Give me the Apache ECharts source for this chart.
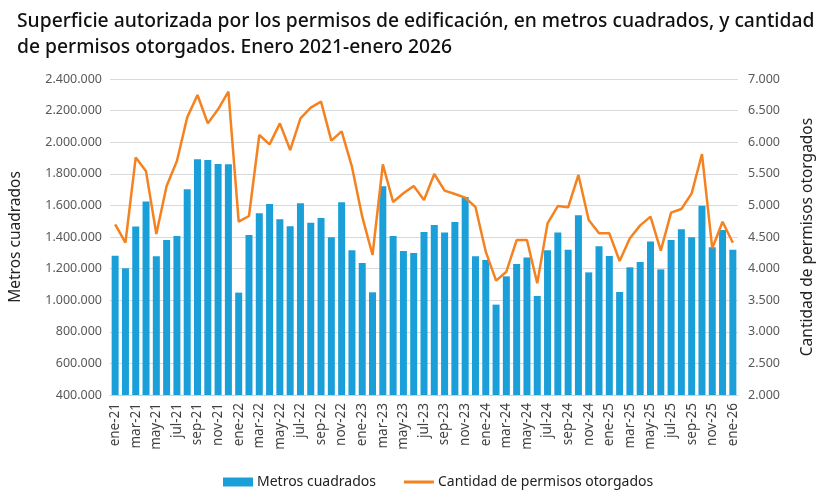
<!DOCTYPE html>
<html>
<head>
<meta charset="utf-8">
<script src="https://cdn.jsdelivr.net/npm/echarts@6/dist/echarts.min.js"></script>
<style>
  html, body { margin: 0; padding: 0; background: #fff; }
  #chart { width: 824px; height: 498px; }
</style>
</head>
<body>
<div id="chart"></div>
<script>
// datos: superficie (m2) y cantidad de permisos, ene-21 a ene-26
var meses = [
  'ene-21','feb-21','mar-21','abr-21','may-21','jun-21','jul-21','ago-21','sep-21','oct-21','nov-21','dic-21',
  'ene-22','feb-22','mar-22','abr-22','may-22','jun-22','jul-22','ago-22','sep-22','oct-22','nov-22','dic-22',
  'ene-23','feb-23','mar-23','abr-23','may-23','jun-23','jul-23','ago-23','sep-23','oct-23','nov-23','dic-23',
  'ene-24','feb-24','mar-24','abr-24','may-24','jun-24','jul-24','ago-24','sep-24','oct-24','nov-24','dic-24',
  'ene-25','feb-25','mar-25','abr-25','may-25','jun-25','jul-25','ago-25','sep-25','oct-25','nov-25','dic-25',
  'ene-26'
];

var metros = [
  1282000, 1202000, 1466000, 1624000, 1278000, 1381000, 1406000, 1702000, 1892000, 1888000, 1862000, 1860000,
  1048000, 1413000, 1550000, 1609000, 1512000, 1468000, 1614000, 1490000, 1520000, 1398000, 1620000, 1316000,
  1236000, 1050000, 1721000, 1406000, 1311000, 1299000, 1432000, 1476000, 1428000, 1495000, 1653000, 1278000,
  1255000, 972000, 1151000, 1229000, 1271000, 1027000, 1316000, 1428000, 1320000, 1537000, 1176000, 1341000,
  1280000, 1052000, 1208000, 1242000, 1371000, 1195000, 1381000, 1449000, 1398000, 1598000, 1335000, 1444000,
  1320000
];

var permisos = [
  4700, 4410, 5760, 5539, 4547, 5307, 5702, 6393, 6747, 6298, 6520, 6799,
  4742, 4832, 6114, 5966, 6298, 5876, 6377, 6546, 6641, 6024, 6172, 5613,
  4822, 4215, 5650, 5054, 5191, 5307, 5085, 5497, 5233, 5180, 5122, 4975,
  4268, 3809, 3951, 4452, 4452, 3767, 4716, 4990, 4969, 5481, 4769, 4558,
  4558, 4120, 4479, 4684, 4822, 4284, 4885, 4943, 5191, 5813, 4321, 4742,
  4410
];

function puntos(v) {
  return String(v).replace(/\B(?=(\d{3})+(?!\d))/g, '.');
}

var myChart = echarts.init(document.getElementById('chart'));

var option = {
  backgroundColor: '#fff',
  animation: false,
  textStyle: { fontFamily: 'Noto Sans' },
  title: {
    text: 'Superficie autorizada por los permisos de edificación, en metros cuadrados, y cantidad\nde permisos otorgados. Enero 2021-enero 2026',
    left: 12,
    top: 4,
    textStyle: {
      fontFamily: 'Noto Sans',
      fontSize: 19.3,
      fontWeight: 500,
      color: '#111',
      lineHeight: 26
    }
  },
  legend: {
    bottom: 4,
    left: 218,
    itemWidth: 30,
    itemHeight: 9,
    itemGap: 28,
    textStyle: { fontSize: 14, color: '#222', padding: [0, 0, 0, -1] },
    data: [
      { name: 'Metros cuadrados', icon: 'rect' },
      { name: 'Cantidad de permisos otorgados', icon: 'path://M0,0h30v3H0z' }
    ]
  },
  grid: { left: 110, right: 84, top: 79, bottom: 103 },
  xAxis: {
    type: 'category',
    data: meses,
    axisTick: { show: false },
    axisLine: { lineStyle: { color: '#d0d0d0' } },
    axisLabel: {
      rotate: 90,
      interval: 1,
      fontSize: 13.5,
      color: '#404040',
      margin: 8
    }
  },
  yAxis: [
    {
      type: 'value',
      name: 'Metros cuadrados',
      nameLocation: 'middle',
      nameGap: 86,
      nameTextStyle: { fontSize: 15.5, color: '#222' },
      min: 400000,
      max: 2400000,
      interval: 200000,
      axisLabel: { fontSize: 12.5, color: '#595959', formatter: puntos },
      splitLine: { lineStyle: { color: '#d9d9d9' } }
    },
    {
      type: 'value',
      name: 'Cantidad de permisos otorgados',
      nameLocation: 'middle',
      nameGap: 62,
      nameRotate: 90,
      nameTextStyle: { fontSize: 15.5, color: '#222' },
      min: 2000,
      max: 7000,
      interval: 500,
      axisLabel: { fontSize: 12.5, color: '#595959', formatter: puntos, margin: 10 },
      splitLine: { show: false }
    }
  ],
  series: [
    {
      name: 'Metros cuadrados',
      type: 'bar',
      data: metros,
      barCategoryGap: '32%',
      itemStyle: { color: '#1a9fd8' }
    },
    {
      name: 'Cantidad de permisos otorgados',
      type: 'line',
      yAxisIndex: 1,
      data: permisos,
      symbol: 'none',
      lineStyle: { color: '#f58220', width: 2.5 },
      itemStyle: { color: '#f58220' }
    }
  ]
};

myChart.setOption(option);
</script>
</body>
</html>
